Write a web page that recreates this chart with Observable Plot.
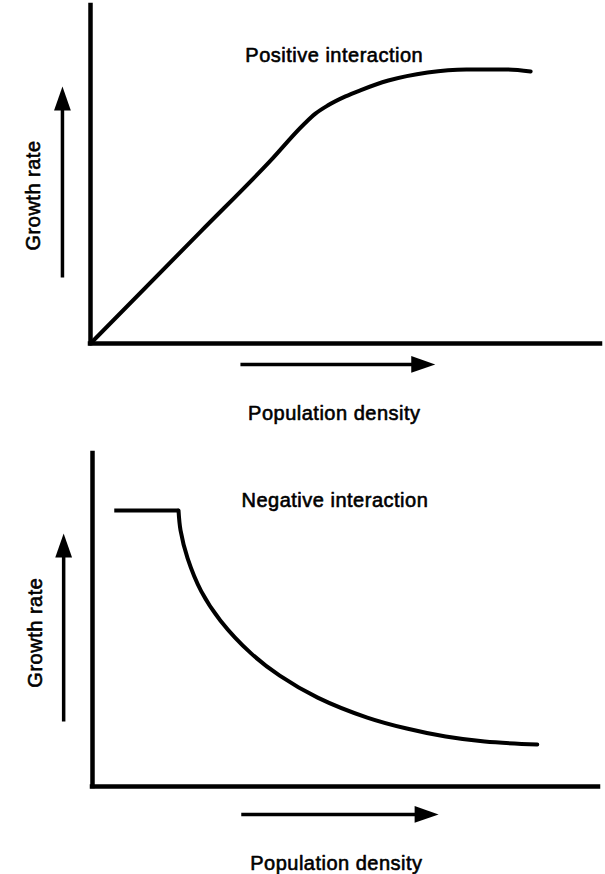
<!DOCTYPE html>
<html>
<head>
<meta charset="utf-8">
<script src="https://cdn.jsdelivr.net/npm/d3@7"></script>
<script src="https://cdn.jsdelivr.net/npm/@observablehq/plot@0.6"></script>
<style>
  html, body { margin: 0; padding: 0; background: #fff; }
  #chart svg { display: block; }
</style>
</head>
<body>
<div id="chart"></div>
<script>
// ---- Data (arbitrary units 0–100 on both axes) ----
const positiveDensity = [0, 21.6, 35.3, 41.8, 44.1, 46.5, 50.0, 52.9, 58.4, 66.1, 73.7, 81.4, 86.3];
const positiveGrowth  = [0, 33.1, 54.1, 64.8, 68.0, 70.4, 73.1, 74.9, 77.8, 80.2, 81.1, 81.1, 80.5];

const negativeDensity = [4.3, 17.0, 17.4, 18.8, 21.5, 25.3, 31.4, 37.0, 44.5, 54.3, 62.1, 69.8, 77.5, 87.9];
const negativeGrowth  = [82.9, 82.9, 76.9, 68.5, 58.6, 49.8, 39.9, 33.3, 26.7, 20.7, 17.4, 15.0, 13.5, 12.6];

const panelTitles = ["Positive interaction", "Negative interaction"];
const xLabel = "Population density";
const yLabel = "Growth rate";

// ---- Tables ----
const positive = positiveDensity.map((d, i) => ({density: d, growth: positiveGrowth[i]}));
const negative = negativeDensity.map((d, i) => ({density: d, growth: negativeGrowth[i]}));
const negativeFlat = negative.slice(0, 2);
const negativeCurve = negative.slice(1);

// Filled, narrow arrowhead symbol (tip at anchor, pointing up)
const arrowHead = {
  draw(ctx, size) {
    const r = Math.sqrt(size / Math.PI);
    const L = 3 * r, w = 1.05 * r;
    ctx.moveTo(0, 0);
    ctx.lineTo(w, L);
    ctx.lineTo(-w, L);
    ctx.closePath();
  }
};

const textStyle = {fontSize: 20, fill: "black", stroke: "black", strokeWidth: 0.6};

function panel({title, lines, margins, ann}) {
  return Plot.plot({
    width: 605,
    height: 437,
    ...margins,
    x: {domain: [0, 100], axis: null},
    y: {domain: [0, 100], axis: null},
    style: {background: "white", fontFamily: "'Liberation Sans', Arial, Helvetica, sans-serif", letterSpacing: "0.5px", color: "black"},
    marks: [
      Plot.ruleX([0], {stroke: "black", strokeWidth: 4.5, strokeLinecap: "square"}),
      Plot.ruleY([0], {stroke: "black", strokeWidth: 4.5, strokeLinecap: "square"}),
      ...lines,
      // vertical (growth) arrow
      Plot.link([0], {x1: ann.vx, x2: ann.vx, y1: ann.vy1, y2: ann.vy2 - 6, stroke: "black", strokeWidth: 3.5}),
      Plot.dot([0], {x: ann.vx, y: ann.vy2, symbol: arrowHead, r: 8, fill: "black", stroke: null}),
      // horizontal (density) arrow
      Plot.link([0], {y1: ann.hy, y2: ann.hy, x1: ann.hx1, x2: ann.hx2 - 4, stroke: "black", strokeWidth: 3.5}),
      Plot.dot([0], {x: ann.hx2, y: ann.hy, symbol: arrowHead, r: 8, rotate: 90, fill: "black", stroke: null}),
      // texts
      Plot.text([title], {x: ann.tx, y: ann.ty, text: d => d, ...textStyle}),
      Plot.text([yLabel], {x: ann.gx, y: ann.gy, text: d => d, rotate: -90, ...textStyle}),
      Plot.text([xLabel], {x: ann.px, y: ann.py, text: d => d, ...textStyle})
    ]
  });
}

const topPanel = panel({
  title: panelTitles[0],
  margins: {marginLeft: 90, marginRight: 5, marginTop: 5, marginBottom: 94},
  lines: [
    Plot.line(positive, {x: "density", y: "growth", curve: "monotone-x", stroke: "black", strokeWidth: 4})
  ],
  ann: {vx: -5.5, vy1: 19.5, vy2: 76, hy: -6.2, hx1: 29.4, hx2: 67.6,
        tx: 47.8, ty: 85.2, gx: -11.2, gy: 43.8, px: 47.8, py: -20.7}
});

const bottomPanel = panel({
  title: panelTitles[1],
  margins: {marginLeft: 92, marginRight: 7, marginTop: 16, marginBottom: 88},
  lines: [
    Plot.line(negativeFlat, {x: "density", y: "growth", stroke: "black", strokeWidth: 4, strokeLinecap: "butt"}),
    Plot.line(negativeCurve, {x: "density", y: "growth", curve: "catmull-rom", stroke: "black", strokeWidth: 4})
  ],
  ann: {vx: -5.7, vy1: 19.5, vy2: 76, hy: -8.4, hx1: 29.4, hx2: 68.4,
        tx: 47.9, ty: 85.9, gx: -11.3, gy: 46.2, px: 48.2, py: -23.1}
});

document.getElementById("chart").append(topPanel, bottomPanel);
</script>
</body>
</html>
